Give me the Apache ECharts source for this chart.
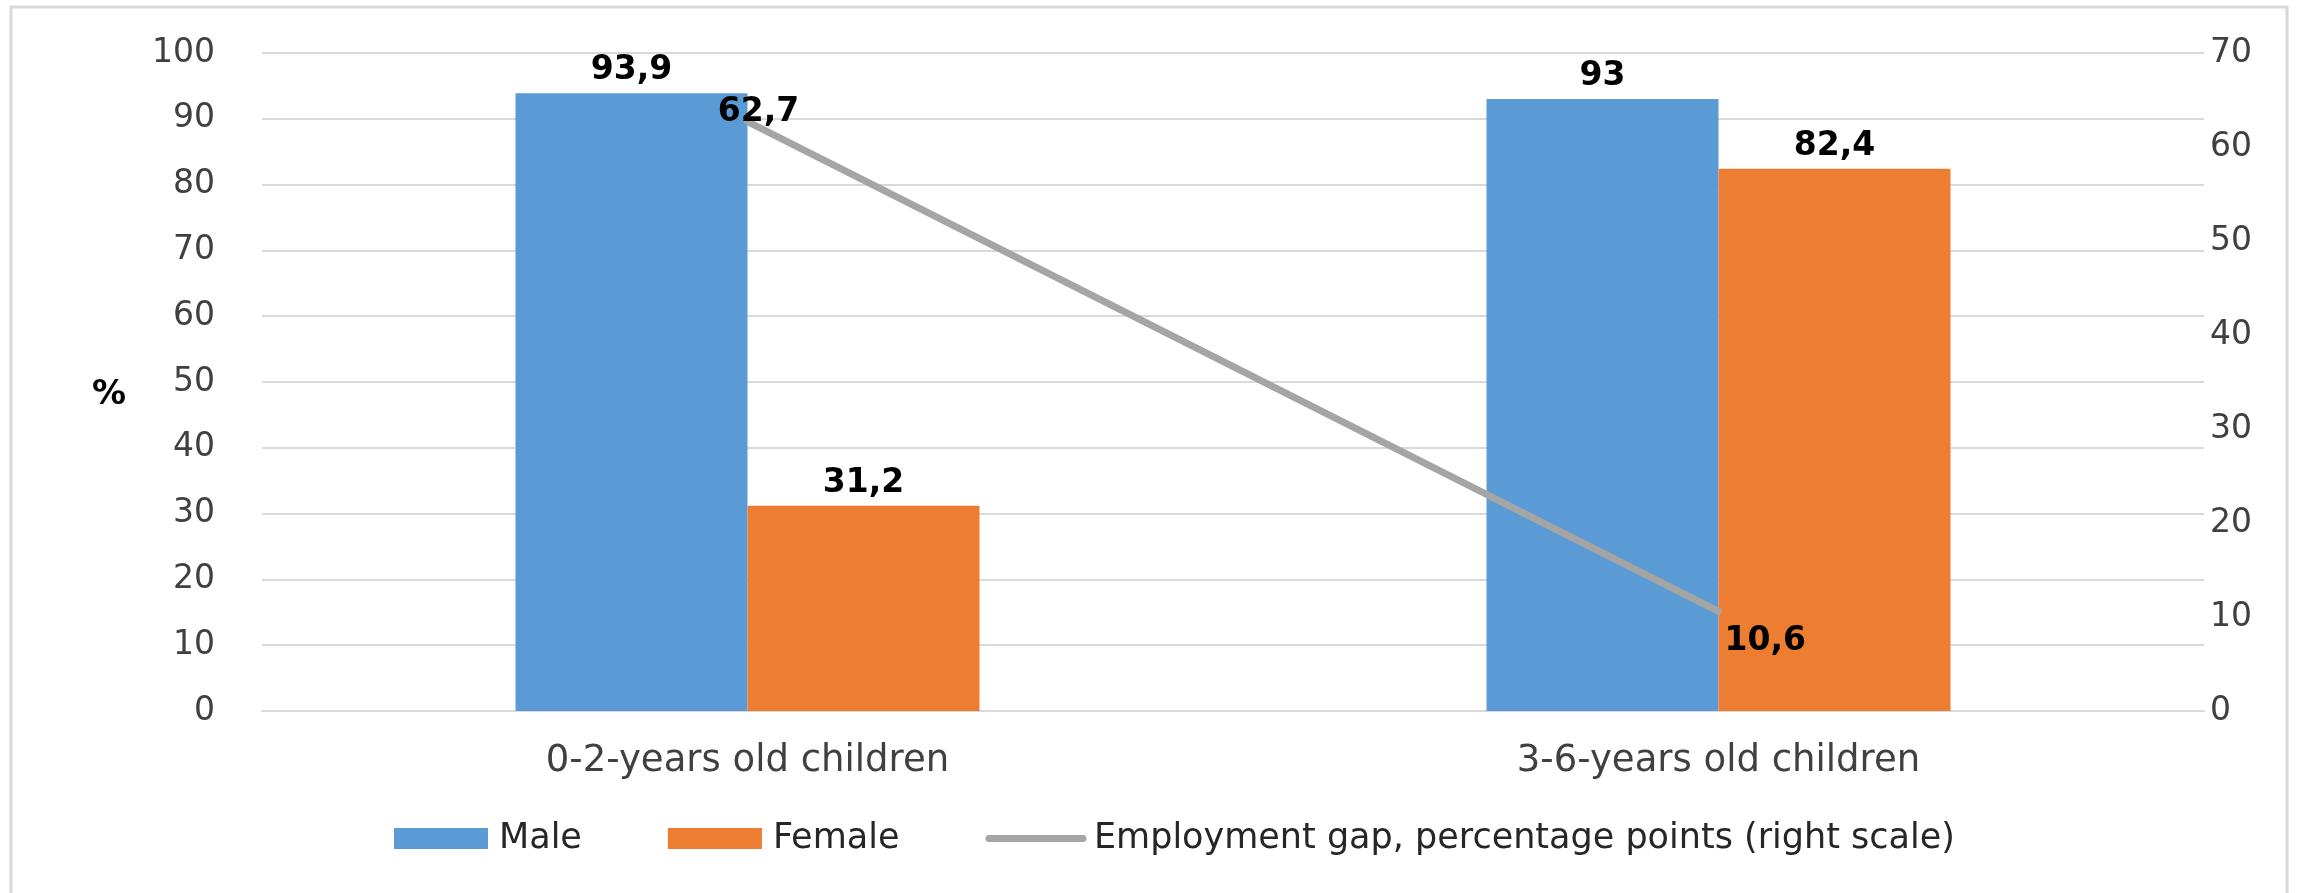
<!DOCTYPE html>
<html>
<head>
<meta charset="utf-8">
<script src="https://cdn.jsdelivr.net/npm/echarts@6/dist/echarts.min.js"></script>
<style>
  html, body { margin: 0; padding: 0; background: #ffffff; }
  #chart { width: 2323px; height: 893px; }
</style>
</head>
<body>
<div id="chart"></div>
<script>
// Employment rates by sex for parents, by age of youngest child
const categories = ['0-2-years old children', '3-6-years old children'];
const maleValues = [93.9, 93];
const femaleValues = [31.2, 82.4];
const gapValues = [62.7, 10.6];
const leftTicks = [0, 10, 20, 30, 40, 50, 60, 70, 80, 90, 100];
const rightTicks = [0, 10, 20, 30, 40, 50, 60, 70];
const seriesNames = ['Male', 'Female', 'Employment gap, percentage points (right scale)'];

const FONT = 'DejaVu Sans';
const fmtComma = v => String(v).replace('.', ',');

const chart = echarts.init(document.getElementById('chart'), null, { renderer: 'canvas' });

const barLabel = {
  show: true, position: 'top', distance: 6,
  fontFamily: FONT, fontSize: 33, fontWeight: 'bold', color: '#000000',
  formatter: p => fmtComma(p.value)
};

chart.setOption({
  backgroundColor: '#ffffff',
  animation: false,
  graphic: [
    {
      type: 'rect',
      shape: { x: 11, y: 7, width: 2276, height: 900 },
      style: { fill: 'none', stroke: '#D9D9D9', lineWidth: 3 },
      silent: true
    },
    {
      type: 'text',
      left: 92, top: 378,
      style: { text: '%', font: 'bold 34px "DejaVu Sans"', fill: '#000000' }
    }
  ],
  grid: { left: 262, right: 119, top: 53, bottom: 182, containLabel: false },
  legend: {
    data: [
      { name: seriesNames[0], icon: 'rect' },
      { name: seriesNames[1], icon: 'rect' },
      { name: seriesNames[2], itemStyle: { opacity: 0 }, lineStyle: { width: 7, cap: 'round' } }
    ],
    left: 394,
    top: 821,
    padding: 0,
    itemWidth: 94,
    itemHeight: 21,
    itemGap: 86,
    textStyle: { fontFamily: FONT, fontSize: 35, color: '#262626', padding: [0, 0, 0, 6] }
  },
  xAxis: {
    type: 'category',
    data: categories,
    axisTick: { show: false },
    axisLine: { show: true, lineStyle: { color: '#D9D9D9', width: 2 } },
    axisLabel: { fontFamily: FONT, fontSize: 37, color: '#404040', margin: 32 }
  },
  yAxis: [
    {
      type: 'value',
      min: leftTicks[0],
      max: leftTicks[leftTicks.length - 1],
      interval: leftTicks[1] - leftTicks[0],
      axisLine: { show: false },
      axisTick: { show: false },
      splitLine: { show: true, lineStyle: { color: '#D9D9D9', width: 2 } },
      axisLabel: { fontFamily: FONT, fontSize: 33, color: '#404040', margin: 47 }
    },
    {
      type: 'value',
      min: rightTicks[0],
      max: rightTicks[rightTicks.length - 1],
      interval: rightTicks[1] - rightTicks[0],
      position: 'right',
      axisLine: { show: false },
      axisTick: { show: false },
      splitLine: { show: false },
      axisLabel: { fontFamily: FONT, fontSize: 33, color: '#404040', margin: 6 }
    }
  ],
  series: [
    {
      name: seriesNames[0],
      type: 'bar',
      data: maleValues,
      barWidth: 232,
      barGap: '0%',
      itemStyle: { color: '#5B9BD5' },
      label: barLabel
    },
    {
      name: seriesNames[1],
      type: 'bar',
      data: femaleValues,
      barWidth: 232,
      barGap: '0%',
      itemStyle: { color: '#ED7D31' },
      label: barLabel
    },
    {
      name: seriesNames[2],
      type: 'line',
      yAxisIndex: 1,
      symbol: 'circle',
      symbolSize: 6,
      showSymbol: true,
      z: 5,
      lineStyle: { color: '#A5A5A5', width: 7, cap: 'round' },
      itemStyle: { color: '#A5A5A5' },
      data: [
        {
          value: gapValues[0],
          label: { show: true, position: 'top', offset: [11, 15] }
        },
        {
          value: gapValues[1],
          label: { show: true, position: 'right', offset: [-2, 30] }
        }
      ],
      label: {
        show: true,
        fontFamily: FONT, fontSize: 33, fontWeight: 'bold', color: '#000000',
        formatter: p => fmtComma(p.value)
      }
    }
  ]
});
</script>
</body>
</html>
